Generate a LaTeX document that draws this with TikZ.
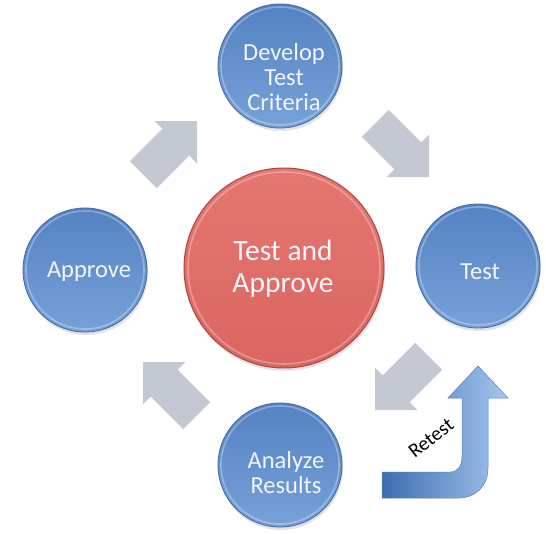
\documentclass[tikz,border=0pt]{standalone}
\usepackage{fontspec}
\setmainfont{Carlito}
\usetikzlibrary{shadows}

\definecolor{discdark}{HTML}{5482C3}
\definecolor{disclight}{HTML}{77A1D8}
\definecolor{discedge}{HTML}{41699F}
\definecolor{hubtop}{HTML}{E4776F}
\definecolor{hubbottom}{HTML}{DB6661}
\definecolor{hubedge}{HTML}{A94542}
\definecolor{flowgray}{HTML}{C3C8D3}
\definecolor{retdark}{HTML}{3D6DB0}
\definecolor{retlight}{HTML}{A6C7EE}
\definecolor{labelwhite}{HTML}{F2F5FB}

\tikzset{
  disc/.style={circle, minimum size=124pt, inner sep=0pt,
    top color=discdark, bottom color=disclight,
    draw=discedge, line width=0.8pt,
    drop shadow={opacity=0.22, shadow xshift=1pt, shadow yshift=-3pt}},
  disctext/.style={text=labelwhite, align=center, inner sep=0pt,
    font=\fontsize{24.5}{25}\selectfont},
  hub/.style={circle, minimum size=200pt, inner sep=0pt,
    top color=hubtop, bottom color=hubbottom,
    draw=hubedge, line width=1pt,
    drop shadow={opacity=0.2, shadow xshift=1pt, shadow yshift=-3pt}},
  hubtext/.style={text=labelwhite, align=center, inner sep=0pt,
    font=\fontsize{29.5}{32}\selectfont},
  rim/.style={white, opacity=0.3, line width=1.6pt},
  flow/.style={fill=flowgray},
  retestshape/.style={left color=retdark, right color=retlight,
    draw=retdark!85, line width=0.5pt},
  retesttext/.style={text=black, inner sep=0pt,
    font=\fontsize{20}{22}\selectfont}
}

% block arrow with a square tip, tip at the local origin, pointing along +x
\newcommand{\flowarrow}[2]{%
  \fill[flow, shift={#1}, rotate=#2]
    (0pt,0pt) -- (-30pt,30pt) -- (-30pt,19pt) -- (-76pt,19pt)
    -- (-76pt,-19pt) -- (-30pt,-19pt) -- (-30pt,-30pt) -- cycle;}

\begin{document}
\begin{tikzpicture}[x=1pt, y=-1pt]
  \useasboundingbox (0,0) rectangle (546,533);
  \fill[white] (0,0) rectangle (546,533);

  % cycle arrows between the stages
  \flowarrow{(197,121)}{45}
  \flowarrow{(429,177)}{-45}
  \flowarrow{(375,410)}{-135}
  \flowarrow{(143,362)}{135}

  % centre hub
  \node[hub] (hub) at (284,268) {};
  \draw[rim] (hub.center) circle[radius=96pt];
  \node[hubtext] (hubtext) at (283,269) {Test and\\Approve};

  % stages
  \node[disc] (develop) at (280,66) {};
  \node[disc] (test) at (478,266) {};
  \node[disc] (analyze) at (280,465) {};
  \node[disc] (approve) at (85,270) {};
  \foreach \n in {develop,test,analyze,approve}
    \draw[rim] (\n.center) circle[radius=59pt];

  \node[disctext] (developtext) at (284,77) {Develop\\Test\\Criteria};
  \node[disctext] (testtext) at (480,272) {Test};
  \node[disctext] (analyzetext) at (286,473) {Analyze\\Results};
  \node[disctext] (approvetext) at (89,272) {Approve};

  % retest loop back to testing
  \shade[retestshape]
    (382,472) -- (450,472) .. controls (458,472) and (462,466) .. (462,456)
    -- (462,398) -- (448,398) -- (478,366) -- (508,398) -- (488,398)
    -- (488,468) .. controls (488,486) and (476,498) .. (458,498)
    -- (382,498) -- cycle;
  \node[retesttext, rotate=38] (retest) at (431,438) {Retest};
\end{tikzpicture}
\end{document}
